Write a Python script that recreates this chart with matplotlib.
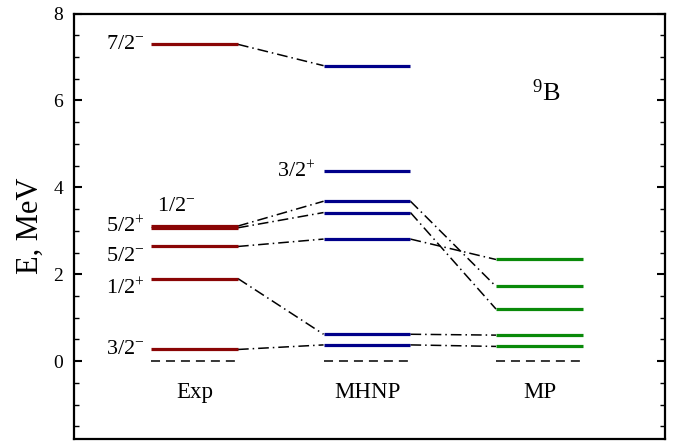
import matplotlib
matplotlib.use("Agg")
import matplotlib.pyplot as plt
from matplotlib.ticker import MultipleLocator

plt.rcParams['font.family'] = ['Liberation Serif', 'DejaVu Serif']
plt.rcParams['mathtext.fontset'] = 'custom'
plt.rcParams['mathtext.rm'] = 'Liberation Serif'

# ---- data ----
columns = ["Exp", "MHNP", "MP"]
exp_levels = [0.27, 1.90, 2.64, 3.07, 3.11, 7.29]
mhnp_levels = [0.375, 0.62, 2.81, 3.42, 3.68, 4.38, 6.80]
mp_levels = [0.34, 0.60, 1.20, 1.72, 2.34]

# connections (left column energy -> right column energy)
exp_to_mhnp = [(0.27, 0.375), (1.90, 0.62), (2.64, 2.81), (3.07, 3.42), (3.11, 3.68), (7.29, 6.80)]
mhnp_to_mp = [(0.375, 0.34), (0.62, 0.60), (2.81, 2.34), (3.42, 1.20), (3.68, 1.72)]

# level labels
exp_labels = [r"$\mathregular{7/2^{-}}$", r"$\mathregular{5/2^{+}}$", r"$\mathregular{5/2^{-}}$",
              r"$\mathregular{1/2^{+}}$", r"$\mathregular{3/2^{-}}$"]
exp_label_y = [7.28, 3.09, 2.42, 1.67, 0.26]
extra_label = r"$\mathregular{1/2^{-}}$"
extra_label_y = 3.55
mhnp_label = r"$\mathregular{3/2^{+}}$"
mhnp_label_y = 4.36
nucleus = r"$\mathregular{^{9}B}$"

colors = ["#8a0505", "#00008a", "#0a8a0a"]
half = 0.252

fig = plt.figure(figsize=(6.76, 4.41), dpi=100)
ax = fig.add_axes([74/676, 1-439/441, (665-74)/676, (439-13.5)/441])
ax.set_xlim(-0.699, 2.728)
ax.set_ylim(-1.79, 8)

level_sets = [exp_levels, mhnp_levels, mp_levels]
for i, levels in enumerate(level_sets):
    for e in levels:
        ax.plot([i - half, i + half], [e, e], color=colors[i], lw=2.3, solid_capstyle='butt', zorder=3)
    ax.plot([i - half, i + half], [0, 0], color='black', lw=1.1, linestyle=(0, (5.9, 3.9)), zorder=3)
    ax.text(i, -0.85, columns[i], ha='center', va='baseline', fontsize=16.5)

for a, b in exp_to_mhnp:
    ax.plot([0 + half, 1 - half], [a, b], color='black', lw=1.1,
            linestyle=(0, (7.0, 2.6, 1.0, 2.6)), zorder=2)
for a, b in mhnp_to_mp:
    ax.plot([1 + half, 2 - half], [a, b], color='black', lw=1.1,
            linestyle=(0, (7.0, 2.6, 1.0, 2.6)), zorder=2)

for t, y in zip(exp_labels, exp_label_y):
    ax.text(0 - half - 0.035, y, t, ha='right', va='center', fontsize=16)
ax.text(-0.216, extra_label_y, extra_label, ha='left', va='center', fontsize=16)
ax.text(1 - half - 0.045, mhnp_label_y, mhnp_label, ha='right', va='center', fontsize=16)
ax.text(1.955, 6.0, nucleus, ha='left', va='baseline', fontsize=19)

ax.set_ylabel("E, MeV", fontsize=22, labelpad=6)
ax.yaxis.set_major_locator(MultipleLocator(2))
ax.yaxis.set_minor_locator(MultipleLocator(0.5))
ax.set_xticks([])
ax.tick_params(axis='y', which='major', direction='in', length=6, width=1.5,
               labelsize=14, right=True, pad=8)
ax.tick_params(axis='y', which='minor', direction='in', length=3.5, width=1.0, right=True)
for s in ax.spines.values():
    s.set_linewidth(1.6)

fig.savefig("out.png", dpi=100)
